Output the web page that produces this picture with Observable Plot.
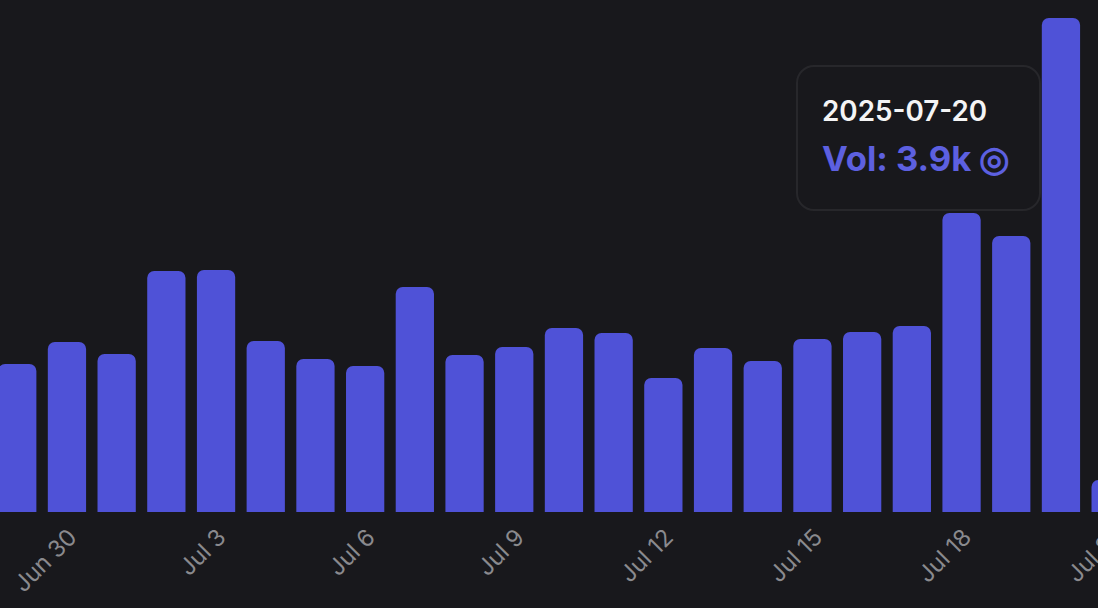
<!DOCTYPE html>
<html>
<head>
<meta charset="utf-8">
<script src="https://cdn.jsdelivr.net/npm/d3@7"></script>
<script src="https://cdn.jsdelivr.net/npm/@observablehq/plot@0.6"></script>
<style>
  html, body { margin: 0; padding: 0; background: #18181c; width: 1098px; height: 608px; overflow: hidden; }
  #chart { position: relative; width: 1098px; height: 608px; font-family: Inter, sans-serif; }
  #chart svg { display: block; }
  #tip { position: absolute; left: 796px; top: 65px; width: 245px; height: 146px; box-sizing: border-box;
         background: #18181c; border: 2px solid #27272b; border-radius: 18px; padding: 26px 0 0 24px; white-space: nowrap; }
  #tipDate { color: #f4f4f5; font-size: 27.8px; font-weight: 600; line-height: 36px; }
  #tipVol { color: #5d60e0; font-size: 34.6px; font-weight: 700; line-height: 44px; margin-top: 7px; }
</style>
</head>
<body>
<div id="chart"><div id="tip"><div id="tipDate"></div><div id="tipVol"></div></div></div>
<script>
const dates = ["06-29","06-30","07-01","07-02","07-03","07-04","07-05","07-06","07-07","07-08","07-09","07-10","07-11","07-12","07-13","07-14","07-15","07-16","07-17","07-18","07-19","07-20","07-21"];
const volumes = [1168,1342,1247,1903,1910,1350,1208,1153,1776,1239,1303,1453,1413,1058,1295,1192,1366,1421,1468,2360,2179,3900,253];
const tickDates = ["06-30","07-03","07-06","07-09","07-12","07-15","07-18","07-21"];
const tickLabels = ["Jun 30","Jul 3","Jul 6","Jul 9","Jul 12","Jul 15","Jul 18","Jul 21"];
const tipDate = "2025-07-20";
const tipVol = "Vol: 3.9k ◎";

const rows = dates.map((d, i) => ({date: d, vol: volumes[i]}));
const plot = Plot.plot({
  width: 1098, height: 608,
  marginLeft: 0, marginRight: 0, marginTop: 0, marginBottom: 0,
  style: {background: "transparent", fontFamily: "Inter, sans-serif"},
  x: {type: "band", domain: dates, range: [-7.6, 1135.5], paddingInner: 0.23, paddingOuter: 0.115, align: 0.5, round: false},
  y: {domain: [0, 3900], range: [512, 18], axis: null},
  marks: [
    Plot.barY(rows, {x: "date", y: "vol", fill: "#4f52d7", ry1: 7}),
    Plot.axisX({
      ticks: tickDates,
      tickSize: 0,
      anchor: "bottom",
      tickFormat: d => tickLabels[tickDates.indexOf(d)],
      tickRotate: -45,
      tickPadding: 0,
      dy: -75,
      dx: 5.5,
      fontSize: 23.5,
      color: "#8a8a8e",
      label: null
    })
  ]
});
document.getElementById("chart").prepend(plot);
document.getElementById("tipDate").textContent = tipDate;
document.getElementById("tipVol").textContent = tipVol;
</script>
</body>
</html>
